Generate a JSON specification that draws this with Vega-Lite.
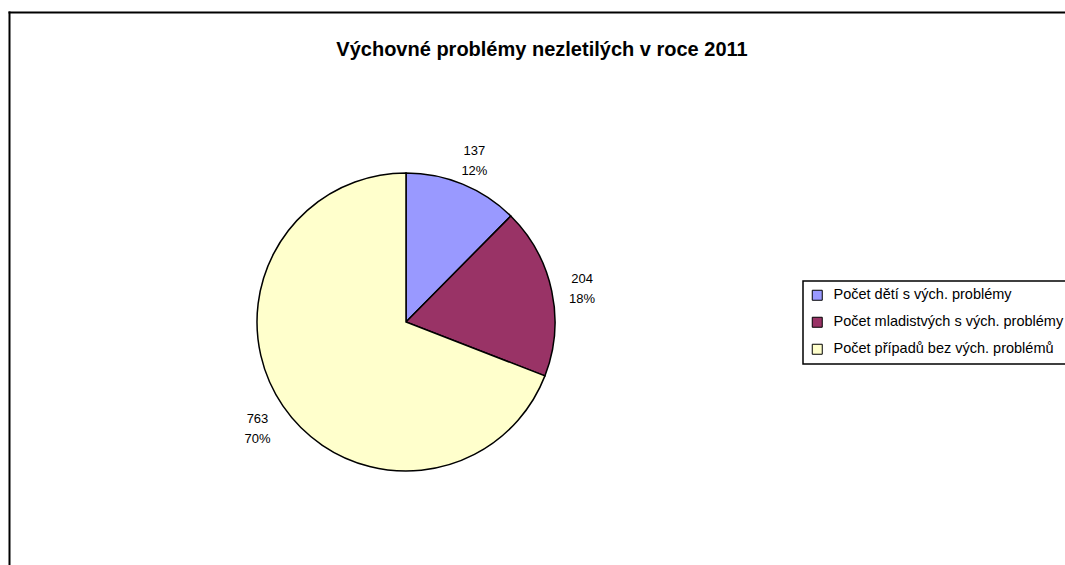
{
  "$schema": "https://vega.github.io/schema/vega-lite/v6.json",
  "autosize": {"type": "none"},
  "padding": {"left": 257, "top": 173, "right": 510, "bottom": 94},
  "width": 298,
  "height": 298,
  "background": "white",
  "data": {
    "values": [
      {"category": "Počet dětí s vých. problémy", "value": 137, "label": "137\n12%"},
      {"category": "Počet mladistvých s vých. problémy", "value": 204, "label": "204\n18%"},
      {"category": "Počet případů bez vých. problémů", "value": 763, "label": "763\n70%"}
    ]
  },
  "config": {
    "font": "Liberation Sans",
    "view": {"stroke": null},
    "legend": {"strokeColor": "black", "strokeWidth": 1.5, "fillColor": "white", "padding": 7}
  },
  "title": {
    "text": "Výchovné problémy nezletilých v roce 2011",
    "fontSize": 20,
    "fontWeight": "bold",
    "color": "black",
    "anchor": "middle",
    "frame": "group",
    "dx": 136,
    "offset": -48
  },
  "layer": [
    {
      "mark": {"type": "point", "opacity": 0},
      "encoding": {
        "x": {
          "field": "value",
          "type": "quantitative",
          "scale": {"domain": [0, 1000], "range": [-249, 812], "nice": false, "zero": false},
          "axis": {"orient": "top", "offset": 161, "labels": false, "ticks": false, "grid": false, "title": null, "domainColor": "black", "domainWidth": 2}
        },
        "y": {
          "field": "value",
          "type": "quantitative",
          "scale": {"domain": [0, 1000], "range": [420, -162], "nice": false, "zero": false},
          "axis": {"orient": "left", "offset": 248, "labels": false, "ticks": false, "grid": false, "title": null, "domainColor": "black", "domainWidth": 2}
        }
      }
    },
    {
      "mark": {"type": "arc", "stroke": "black", "strokeWidth": 1.5},
      "encoding": {
        "theta": {"field": "value", "type": "quantitative", "stack": true},
        "color": {
          "field": "category",
          "type": "nominal",
          "scale": {
            "domain": ["Počet dětí s vých. problémy", "Počet mladistvých s vých. problémy", "Počet případů bez vých. problémů"],
            "range": ["#9999FF", "#993366", "#FFFFCC"]
          },
          "legend": {
            "orient": "none",
            "legendX": 546,
            "legendY": 108,
            "title": null,
            "symbolType": "square",
            "symbolSize": 100,
            "symbolStrokeColor": "black",
            "symbolStrokeWidth": 1,
            "symbolOpacity": 1,
            "labelFontSize": 14.5,
            "labelColor": "black",
            "labelOffset": 9,
            "labelLimit": 400,
            "rowPadding": 11
          }
        }
      }
    },
    {
      "mark": {"type": "text", "radius": 180, "dy": -5, "fontSize": 13, "lineBreak": "\n", "lineHeight": 20, "color": "black"},
      "encoding": {
        "theta": {"field": "value", "type": "quantitative", "stack": true},
        "text": {"field": "label", "type": "nominal"}
      }
    }
  ]
}
